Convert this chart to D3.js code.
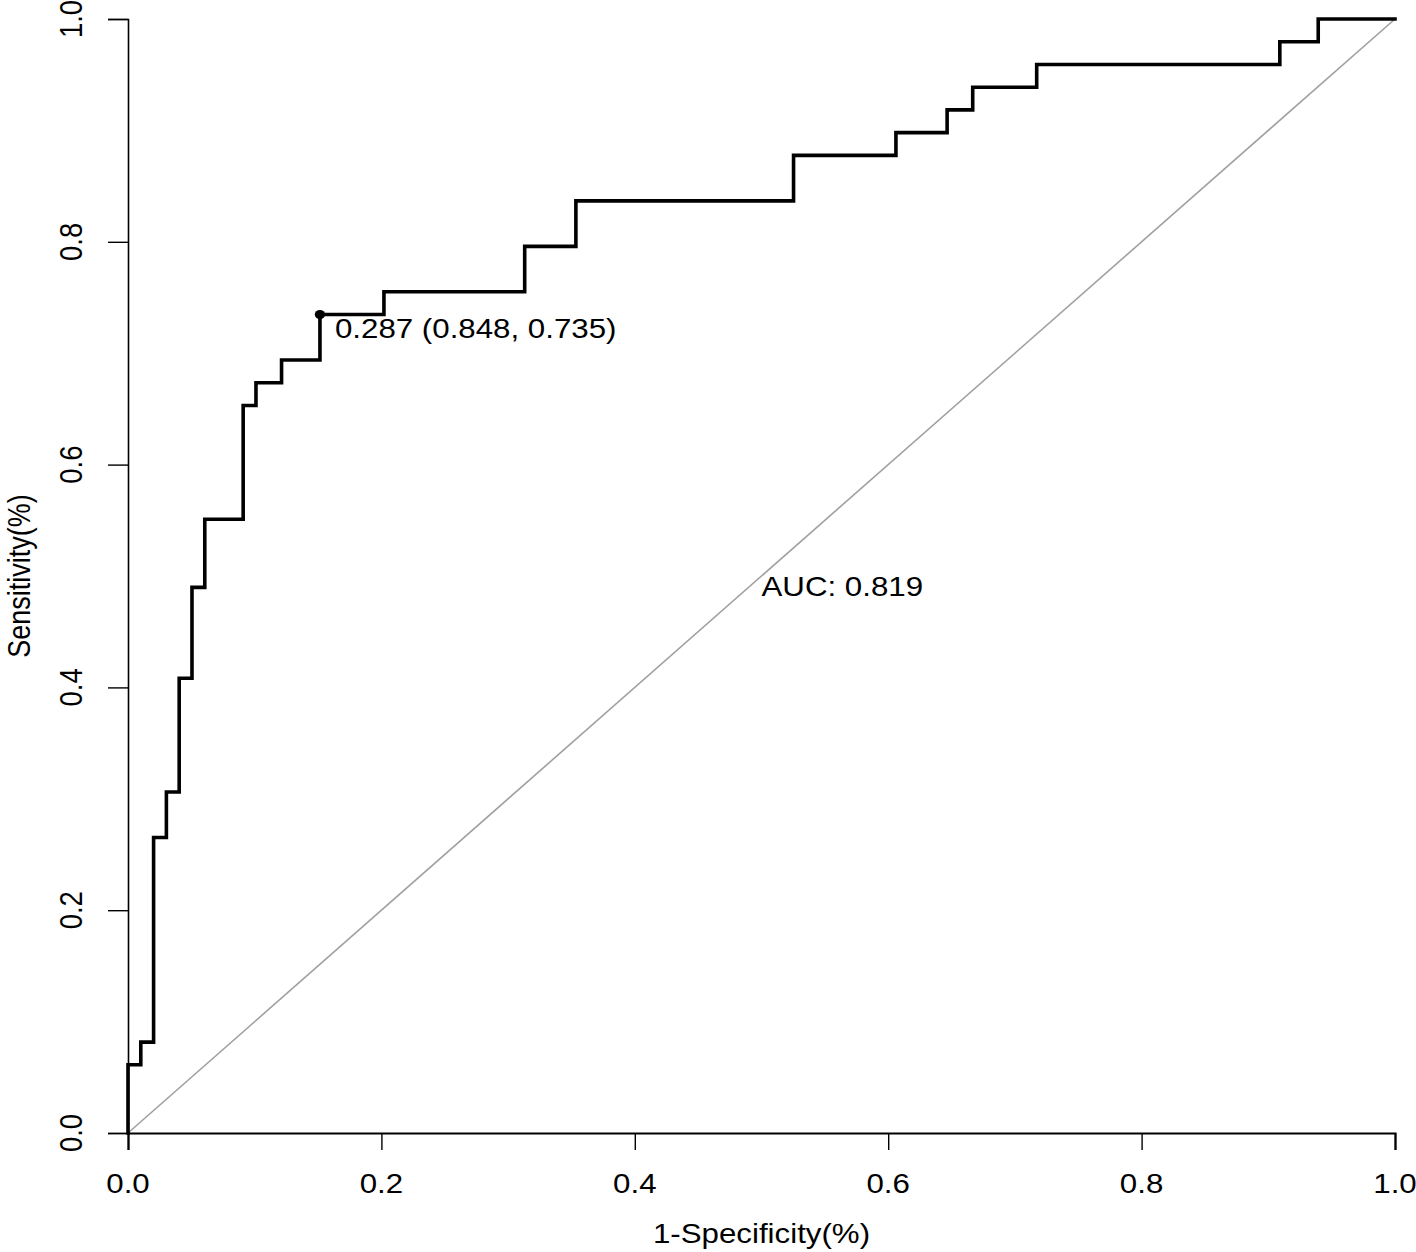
<!DOCTYPE html>
<html><head><meta charset="utf-8">
<script src="https://cdn.jsdelivr.net/npm/d3@7"></script>
<style>html,body{margin:0;padding:0;background:#fff;}svg{display:block;}</style>
</head><body>
<svg id="chart" width="1416" height="1252"></svg>
<script>
// ROC step vertices: (1-specificity, sensitivity)
const fpr = [0, 0.0101, 0.0202, 0.0303, 0.0404, 0.0505, 0.0606, 0.0909, 0.1010, 0.1212, 0.1515,
             0.2020, 0.3131, 0.3535, 0.5253, 0.6061, 0.6465, 0.6667, 0.7172, 0.9091, 0.9394, 1.0];
const tpr = [0, 0.0612, 0.0816, 0.2653, 0.3061, 0.4082, 0.4898, 0.5510, 0.6531, 0.6735, 0.6939,
             0.7347, 0.7551, 0.7959, 0.8367, 0.8776, 0.8980, 0.9184, 0.9388, 0.9592, 0.9796, 1.0];
const bestPoint = {fpr: 0.1515, tpr: 0.7347};
const bestLabel = "0.287 (0.848, 0.735)";
const aucLabel = "AUC: 0.819";
const xTicks = [0, 0.2, 0.4, 0.6, 0.8, 1.0];
const yTicks = [0, 0.2, 0.4, 0.6, 0.8, 1.0];
const xTitle = "1-Specificity(%)";
const yTitle = "Sensitivity(%)";

const svg = d3.select("#chart");
const SX = 1.137; // horizontal stretch of the original image
const font = "'Liberation Sans', Arial, sans-serif";
const x = d3.scaleLinear().domain([0, 1]).range([128, 1395]);
const y = d3.scaleLinear().domain([0, 1]).range([1133, 19]);

svg.append("rect").attr("width", 1416).attr("height", 1252).attr("fill", "#fff");

function stext(px, py, str, anchor, size) {
  return svg.append("text")
    .attr("transform", `translate(${px},${py}) scale(${SX},1)`)
    .attr("text-anchor", anchor || "start")
    .attr("font-family", font)
    .attr("font-size", size || 27.5)
    .attr("fill", "#000")
    .text(str);
}

// diagonal
svg.append("line")
  .attr("x1", x(0)).attr("y1", y(0)).attr("x2", x(1)).attr("y2", y(1))
  .attr("stroke", "#a0a0a0").attr("stroke-width", 1.6);

// x axis
const gx = svg.append("g").attr("transform", `translate(0,${y(0)})`)
  .call(d3.axisBottom(x).tickValues(xTicks).tickSize(17).tickFormat(d3.format(".1f")));
gx.select(".domain").attr("stroke", "#000").attr("stroke-width", 2.2);
gx.selectAll(".tick line").attr("stroke", "#000").attr("stroke-width", 1.4);
gx.selectAll(".tick text").remove();
xTicks.forEach(v => stext(x(v), 1193, d3.format(".1f")(v), "middle"));

// y axis
const gy = svg.append("g").attr("transform", `translate(${x(0)},0)`)
  .call(d3.axisLeft(y).tickValues(yTicks).tickSize(20).tickFormat(d3.format(".1f")));
gy.select(".domain").attr("stroke", "#000").attr("stroke-width", 1.6);
gy.selectAll(".tick line").attr("stroke", "#000").attr("stroke-width", 1.4);
gy.selectAll(".tick text").remove();
yTicks.forEach(v => {
  svg.append("text")
    .attr("transform", `translate(82,${y(v)}) scale(${SX},1) rotate(-90)`)
    .attr("text-anchor", "middle")
    .attr("font-family", font).attr("font-size", 27.5).attr("fill", "#000")
    .text(d3.format(".1f")(v));
});

// titles
stext((x(0) + x(1)) / 2, 1243, xTitle, "middle");
svg.append("text")
  .attr("transform", `translate(30,${(y(0) + y(1)) / 2}) scale(${SX},1) rotate(-90)`)
  .attr("text-anchor", "middle")
  .attr("font-family", font).attr("font-size", 27).attr("fill", "#000")
  .text(yTitle);

// ROC curve
const pts = fpr.map((f, i) => [f, tpr[i]]);
svg.append("path")
  .datum(pts)
  .attr("d", d3.line().x(d => x(d[0])).y(d => y(d[1])).curve(d3.curveStepBefore))
  .attr("fill", "none").attr("stroke", "#000").attr("stroke-width", 3.6)
  .attr("stroke-linejoin", "miter").attr("stroke-linecap", "square");

// best threshold point
svg.append("ellipse")
  .attr("cx", x(bestPoint.fpr)).attr("cy", y(bestPoint.tpr))
  .attr("rx", 5.2).attr("ry", 4.6).attr("fill", "#000");
stext(x(bestPoint.fpr) + 15, y(bestPoint.tpr) + 23, bestLabel, "start");

// AUC
stext(x(0.5), y(0.5) + 20, aucLabel, "start");
</script>
</body></html>
